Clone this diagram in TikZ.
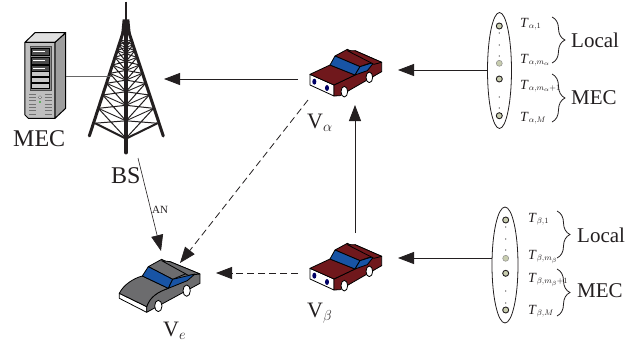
\documentclass[tikz,border=0pt]{standalone}
\usepackage{fontspec}
\setmainfont{Liberation Serif}
\usetikzlibrary{arrows.meta,decorations.pathreplacing,shapes.geometric}
\definecolor{carred}{RGB}{112,24,28}
\definecolor{carblue}{RGB}{24,84,165}
\definecolor{cargrey}{RGB}{108,108,110}
\definecolor{sage}{RGB}{200,205,175}
\definecolor{ink}{RGB}{35,31,32}
\newcommand{\Tl}[1]{{\fontsize{14}{14}\selectfont\textit{T}}{\fontsize{10.95}{11}\selectfont$_{#1}$}}
\newcommand{\Vl}[1]{{\fontsize{22}{22}\selectfont V$_{#1}$}}
\tikzset{
 conn/.style={draw=ink,line width=.8pt,-{Triangle[length=16pt,width=12pt]}},
 dconn/.style={conn,dash pattern=on 7pt off 4pt},
 lab/.style={anchor=base west,inner sep=0pt,text=ink},
 big/.style={lab,font=\fontsize{24}{24}\selectfont},
 mid/.style={lab,font=\fontsize{21}{21}\selectfont},
 brc/.style={draw=ink,line width=.8pt,decorate,decoration={brace,amplitude=13pt}},
 task/.style={circle,draw=ink,line width=.9pt,fill=sage,minimum size=6pt,inner sep=0pt},
 tasklight/.style={circle,draw=black!45,line width=.5pt,fill=sage,minimum size=6pt,inner sep=0pt},
 edgeline/.style={draw=black,line width=.8pt,line join=round},
 zoomed/.style={x=.3333pt,y=-.3333pt},
 pics/redcar/.style={code={
  \begin{scope}[zoomed]
  \path[edgeline,fill=white] (60,133)--(60,165)--(132,198)--(132,165)--cycle;
  \path[edgeline,fill=carred] (132,198)--(132,165)--(195,135)--(252,95)--(195,62)--(275,97)--(275,125)--(150,197)--cycle;
  \path[edgeline,fill=carred] (60,133)--(120,105)--(195,135)--(132,165)--cycle;
  \path[edgeline,fill=carred] (135,78)--(172,58)--(252,95)--(210,110)--cycle;
  \path[edgeline,fill=carblue] (120,105)--(135,78)--(210,110)--(195,135)--cycle;
  \path[edgeline,fill=carblue] (195,135)--(210,110)--(252,97)--(232,122)--cycle;
  \path[edgeline,fill=carred] (195,62)--(275,97)--(252,103)--(172,62)--cycle;
  \path[edgeline,fill=white] (163,185) ellipse[x radius=10,y radius=16];
  \path[edgeline,fill=white] (238,142) ellipse[x radius=10,y radius=16];
  \fill[blue!40!black] (73,155) ellipse[x radius=6,y radius=9];
  \fill[blue!40!black] (111,174) ellipse[x radius=6,y radius=9];
  \end{scope}}}
}
\begin{document}
\begin{tikzpicture}[x=1pt,y=-1pt]
\useasboundingbox (0,0) rectangle (641,349);
\fill[white] (0,0) rectangle (641,349);

% server
\begin{scope}[zoomed]
\path[draw=black,line width=1pt,line join=round,fill=black!38] (165,127)--(197,98)--(197,325)--(165,355)--cycle;
\path[draw=black,line width=1pt,line join=round,fill=black!12] (75,127)--(105,98)--(197,98)--(165,127)--cycle;
\path[draw=black,line width=1pt,line join=round,fill=black!25] (75,127)--(165,127)--(165,355)--(85,355)--(75,345)--cycle;
\draw[black!70,fill=black!45] (90,140) rectangle (153,272);
\foreach \y in {145,172,195}{\draw[black,fill=black!70] (95,\y) rectangle (148,\y+20);
  \draw[white,line width=.5pt] (100,\y+9)--(135,\y+9);}
\foreach \y in {214,232,250}{\draw[black,fill=black!22] (95,\y) rectangle (148,\y+14);}
\foreach \y in {282,292,...,342}{\draw[black!55,line width=.7pt] (88,\y)--(108,\y);\draw[black!55,line width=.7pt] (134,\y)--(156,\y);}
\draw[black!55,fill=black!15] (120,292) circle (5);
\fill[green!60!black] (120,306) circle (2.5);
\end{scope}

% tower
\begin{scope}[zoomed]
\foreach \a/\b in {120/135,135/152,152/172,172/195,195/220,220/250,250/285,285/325,325/370}{
 \pgfmathsetmacro\ha{(\a-95)*(102/313)}\pgfmathsetmacro\hb{(\b-95)*(102/313)}
 \pgfmathsetmacro\la{370-\ha}\pgfmathsetmacro\ra{386+\ha}
 \pgfmathsetmacro\lb{370-\hb}\pgfmathsetmacro\rb{386+\hb}
 \pgfmathsetmacro\ca{\a+.5*\ha}\pgfmathsetmacro\cb{\b+.5*\hb}
 \draw[ink,line width=1pt] (\la,\a)--(378,\cb) (378,\ca)--(\lb,\b) (\ra,\a)--(378,\cb) (378,\ca)--(\rb,\b);
 \draw[ink,line width=.9pt] (\la,\a)--(378,\ca)--(\ra,\a);
}
\draw[ink,line width=2pt] (286,370)--(378,416)--(472,370);
\draw[ink,line width=3pt,line cap=round] (370,95)--(268,408);
\draw[ink,line width=3pt,line cap=round] (386,95)--(490,408);
\draw[ink,line width=3.6pt,line cap=round] (378,95)--(378,458);
\draw[ink,line width=2.6pt] (378,5)--(378,60);
\fill[ink] (368,58)--(388,58)--(392,100)--(364,100)--cycle;
\end{scope}

% cars
\pic at (290,30) {redcar};
\pic at (290,224) {redcar};
\begin{scope}[shift={(100,150)},zoomed]
\path[edgeline,fill=white] (58,430)--(58,445)--(140,487)--(140,470)--cycle;
\path[edgeline,fill=cargrey] (140,487)--(140,470) .. controls (150,440) and (175,425) .. (205,415)--(218,388)--(210,335)--(300,372)--(300,400)--cycle;
\path[edgeline,fill=cargrey] (58,430) .. controls (70,405) and (100,385) .. (127,378)--(205,415) .. controls (175,425) and (150,440) .. (140,470)--cycle;
\path[edgeline,fill=cargrey] (145,350)--(185,328)--(265,368)--(218,388)--cycle;
\path[edgeline,fill=cargrey] (210,335)--(300,372)--(265,376)--(185,332)--cycle;
\path[edgeline,fill=carblue] (127,378)--(145,350)--(218,388)--(205,415)--cycle;
\path[edgeline,fill=carblue] (205,415)--(218,388)--(285,372)--(262,392)--cycle;
\path[edgeline,fill=white] (175,468) ellipse[x radius=11,y radius=17];
\path[edgeline,fill=white] (260,422) ellipse[x radius=11,y radius=17];
\end{scope}

% ellipses and task dots
\node[draw=ink,line width=.8pt,ellipse,inner sep=0pt,minimum width=24pt,minimum height=116pt] (ea) at (499.5,70.5) {};
\node[draw=ink,line width=.8pt,ellipse,inner sep=0pt,minimum width=26pt,minimum height=116pt] (eb) at (505,265) {};
\node[task] (a1) at (499.3,26) {};
\node[tasklight] (a2) at (499.3,63.3) {};
\node[task] (a3) at (499.3,79) {};
\node[task] (a4) at (499.3,115.7) {};
\node[task] (b1) at (505.7,220) {};
\node[tasklight] (b2) at (505.7,258.3) {};
\node[task] (b3) at (505.7,273.3) {};
\node[task] (b4) at (505.7,310) {};
\foreach \y in {33,45,56,97,108}{\fill[ink] (499.3,\y) circle (.6);}
\foreach \y in {227,239,250,291,303}{\fill[ink] (505.7,\y) circle (.6);}

% named end points
\coordinate (mecS) at (66,76);
\coordinate (bsW) at (112,76);
\coordinate (bsE) at (164,79);
\coordinate (caL) at (298,79);
\coordinate (caR) at (398,70);
\coordinate (caB) at (355,105);
\coordinate (caD) at (308,100);
\coordinate (cbT) at (355,233);
\coordinate (cbL) at (298,273);
\coordinate (cbR) at (398,258);
\coordinate (eaW) at (487.5,70);
\coordinate (ebW) at (492,258);
\coordinate (bsS) at (138,158);
\coordinate (veN) at (161,251);
\coordinate (veNE) at (180,263);
\coordinate (veE) at (216,273);

% connectors
\draw[draw=black!60,line width=1pt] (mecS)--(bsW);
\draw[conn] (caL)--(bsE);
\draw[conn] (eaW)--(caR);
\draw[conn] (ebW)--(cbR);
\draw[conn] (cbT)--(caB);
\draw[dconn] (caD)--(veNE);
\draw[dconn] (cbL)--(veE);
\draw[conn,line width=.6pt] (bsS)--(veN);

% labels
\node[big] (mecL) at (13,146) {MEC};
\node[big] (bsL) at (111,183) {BS};
\node[lab,font=\fontsize{11}{11}\selectfont] (an) at (152,213) {AN};
\node[lab] (va) at (307,128) {\Vl{\alpha}};
\node[lab] (vb) at (307,317) {\Vl{\beta}};
\node[lab] (ve) at (163,336) {\Vl{e}};

\node[lab] (ta1) at (520,27) {\Tl{\alpha,1}};
\node[lab] (ta2) at (520,63) {\Tl{\alpha,m_\alpha}};
\node[lab] (ta3) at (520,89) {\Tl{\alpha,m_\alpha+1}};
\node[lab] (ta4) at (520,121) {\Tl{\alpha,M}};
\node[lab] (tb1) at (528,222) {\Tl{\beta,1}};
\node[lab] (tb2) at (528,259) {\Tl{\beta,m_\beta}};
\node[lab] (tb3) at (528,282) {\Tl{\beta,m_\beta+1}};
\node[lab] (tb4) at (528,314) {\Tl{\beta,M}};

\draw[brc] (552,17)--(552,63);
\draw[brc] (552,74)--(552,122);
\draw[brc] (557,211)--(557,258);
\draw[brc] (557,269)--(557,316);
\node[mid] (la) at (571,47) {Local};
\node[mid] (ma) at (571,104) {MEC};
\node[mid] (lb) at (577,242) {Local};
\node[mid] (mb) at (577,297) {MEC};
\end{tikzpicture}
\end{document}
